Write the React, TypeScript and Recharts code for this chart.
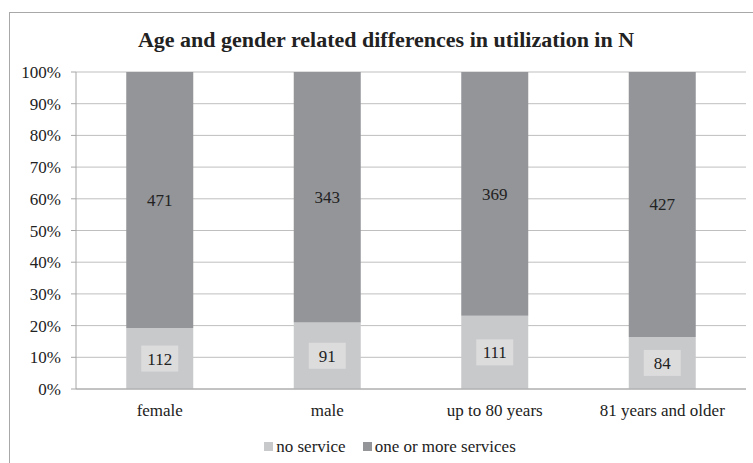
import React from "react";
import { BarChart, Bar, XAxis, YAxis, CartesianGrid, Legend, LabelList } from "recharts";

const categories = ["female", "male", "up to 80 years", "81 years and older"];
const noService = [112, 91, 111, 84];
const oneOrMore = [471, 343, 369, 427];
const yTicks = [0, 0.1, 0.2, 0.3, 0.4, 0.5, 0.6, 0.7, 0.8, 0.9, 1];
const boundaryTicks = [0, 1, 2, 3, 4];
const seriesNames = ["no service", "one or more services"];

const data = categories.map((c, i) => ({ name: c, idx: i + 0.5, noService: noService[i], oneOrMore: oneOrMore[i] }));

const FONT = "'Liberation Serif', 'Times New Roman', serif";
const LIGHT = "#c8c9cb";
const DARK = "#939598";
const FS = 17;

const BoxLabel = (props: any) => {
  const { x, y, width, height, value } = props;
  const cx = x + width / 2;
  const cy = y + height / 2;
  return (
    <g>
      <rect x={cx - 18.5} y={cy - 13} width={37} height={26} fill="#dcdcdd" />
      <text x={cx} y={cy} dy="0.35em" textAnchor="middle" fontFamily={FONT} fontSize={FS} fill="#222">
        {value}
      </text>
    </g>
  );
};

const PlainLabel = (props: any) => {
  const { x, y, width, height, value } = props;
  return (
    <text x={x + width / 2} y={y + height / 2} dy="0.35em" textAnchor="middle" fontFamily={FONT} fontSize={FS} fill="#222">
      {value}
    </text>
  );
};

const LegendContent = () => {
  const colors = [LIGHT, DARK];
  return (
    <div style={{ height: 39, display: "flex", justifyContent: "center", alignItems: "flex-start", paddingTop: 13, boxSizing: "border-box", fontFamily: FONT, fontSize: FS, color: "#222", paddingLeft: 34 }}>
      {seriesNames.map((n, i) => (
        <div key={n} style={{ display: "flex", alignItems: "center", marginRight: i === 0 ? 17 : 0, lineHeight: "19px" }}>
          <span style={{ display: "inline-block", width: 9, height: 9, background: colors[i], marginRight: 3 }} />
          <span>{n}</span>
        </div>
      ))}
    </div>
  );
};

export default function App() {
  return (
    <div style={{ position: "absolute", left: 0, top: 0, width: 753, height: 463, overflow: "hidden", background: "#fff", fontFamily: FONT }}>
      <div style={{ position: "absolute", left: 9, top: 12, width: 780, height: 480, borderLeft: "1.5px solid #a8a8a8", borderTop: "1.5px solid #a8a8a8", boxSizing: "border-box" }} />
      <div style={{ position: "absolute", left: 386, top: 29, transform: "translateX(-50%)", whiteSpace: "nowrap", fontFamily: FONT, fontWeight: "bold", fontSize: 22, lineHeight: "22px", color: "#222" }}>
        Age and gender related differences in utilization in N
      </div>
      <div style={{ position: "absolute", left: 0, top: 0 }}>
        <BarChart width={753} height={463} data={data} stackOffset="expand" barCategoryGap="30%" margin={{ top: 72, right: 7, left: 0, bottom: 0 }} style={{ fontFamily: FONT }}>
          <CartesianGrid vertical={false} stroke="#bfbfbf" strokeWidth={1} />
          <XAxis xAxisId="b" dataKey="idx" type="number" domain={[0, 4]} ticks={boundaryTicks} tick={false} tickSize={5} height={5} stroke="#a6a6a6" tickLine={{ stroke: "#a6a6a6" }} />
          <XAxis xAxisId="cat" dataKey="name" type="category" axisLine={false} tickLine={false} tickSize={0} tickMargin={10} height={30} tick={{ fontFamily: FONT, fontSize: FS, fill: "#222" }} interval={0} />
          <YAxis domain={[0, 1]} ticks={yTicks} tickFormatter={(v: number) => `${Math.round(v * 100)}%`} width={76} tickSize={5} tickMargin={10} stroke="#a6a6a6" tick={{ fontFamily: FONT, fontSize: FS, fill: "#222" }} interval={0} />
          <Legend verticalAlign="bottom" content={<LegendContent />} />
          <Bar xAxisId="cat" dataKey="noService" name={seriesNames[0]} stackId="a" fill={LIGHT} isAnimationActive={false}>
            <LabelList dataKey="noService" content={<BoxLabel />} />
          </Bar>
          <Bar xAxisId="cat" dataKey="oneOrMore" name={seriesNames[1]} stackId="a" fill={DARK} isAnimationActive={false}>
            <LabelList dataKey="oneOrMore" content={<PlainLabel />} />
          </Bar>
        </BarChart>
      </div>
    </div>
  );
}
